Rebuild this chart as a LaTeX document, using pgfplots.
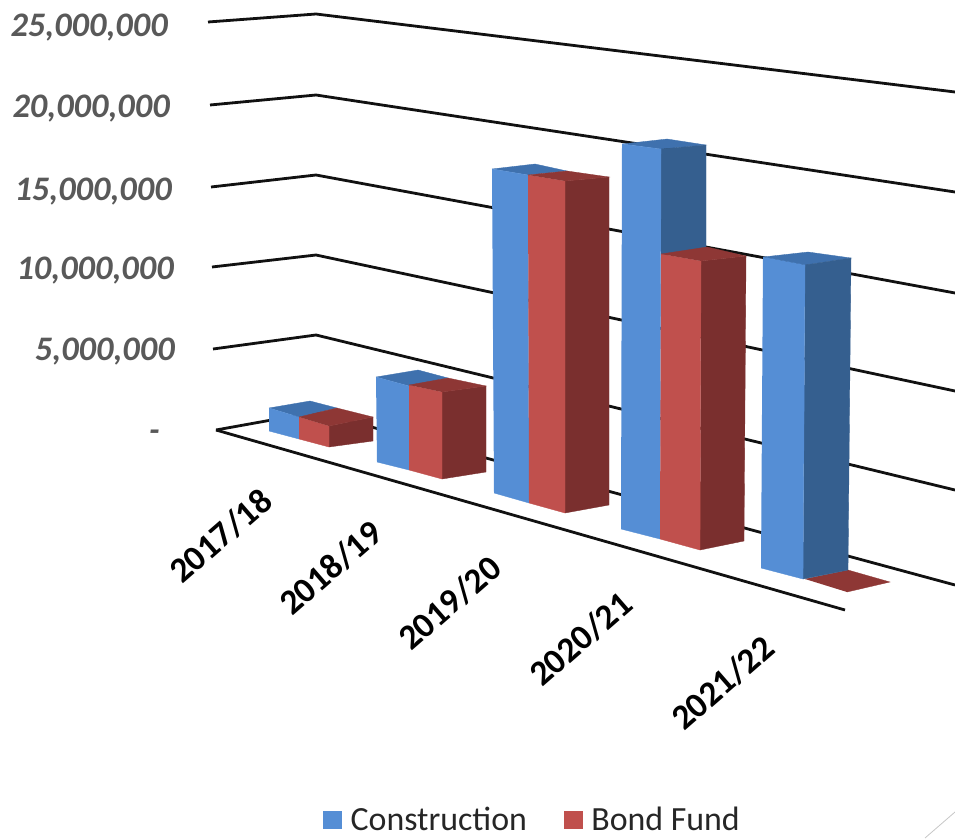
\documentclass[border=0pt]{standalone}
\usepackage{pgfplots}
\pgfplotsset{compat=1.18}
\usepackage{fontspec}
\setmainfont{Carlito}
\definecolor{bluefront}{HTML}{558ED5}
\definecolor{bluetop}{HTML}{3F71AE}
\definecolor{blueside}{HTML}{355F8F}
\definecolor{redfront}{HTML}{C0504D}
\definecolor{redtop}{HTML}{8E3735}
\definecolor{redside}{HTML}{7A2F2E}
\definecolor{gridink}{HTML}{111111}
\definecolor{ticktext}{HTML}{595959}
\newcommand{\face}[2]{\addplot[fill=#1,draw=#1,line width=0.25pt,forget plot] coordinates {#2};}
\newcommand{\grid}[1]{\addplot[gridink,line width=2.1pt,line join=round,forget plot] coordinates {#1};}
\newcommand{\vallabel}[3]{\node[anchor=east,font=\fontsize{25.8}{25.8}\selectfont\bfseries\itshape,text=ticktext,inner sep=0pt] at (axis cs:#1,#2) {#3};}
\newcommand{\catlabel}[3]{\node[rotate=41,font=\fontsize{26.5}{26.5}\selectfont\bfseries,text=black,inner sep=0pt] at (axis cs:#1,#2) {#3};}
\begin{document}
\begin{tikzpicture}
\begin{axis}[
  scale only axis,
  width=716.25pt, height=628.5pt,
  xmin=0, xmax=955, ymin=0, ymax=838,
  y dir=reverse,
  hide axis,
  clip=true,
  legend columns=2,
  legend cell align=left,
  legend style={at={(axis cs:323,820)},anchor=west,draw=none,fill=none,
    inner sep=0pt,outer sep=0pt,
    font=\fontsize{25.4}{25.4}\selectfont,text=black!85,
    /tikz/every odd column/.style={column sep=4.5pt},
    /tikz/every even column/.style={column sep=25.5pt}},
  legend image code/.code={\fill[#1] (0pt,-7pt) rectangle (14.25pt,7pt);},
]
% the page covers the whole plot area
\path (axis cs:0,0) rectangle (axis cs:955,838);

\addlegendimage{fill=bluefront,draw=none}
\addlegendentry{Construction}
\addlegendimage{fill=redfront,draw=none}
\addlegendentry{Bond Fund}

% value gridlines across the side wall and back wall
\grid{(208,22) (316,14) (955,92)}
\grid{(210,105) (316,95) (955,192)}
\grid{(211,187) (316,175) (955,293)}
\grid{(212,267) (316,255) (955,391)}
\grid{(213,349) (316,335) (955,490)}
\grid{(216,430) (316,412) (955,585)}
% front edge of the floor
\grid{(216,430) (845,610)}

% 2017/18
\face{bluetop}{(269,408) (310,401) (337,408) (299,417)}
\face{bluefront}{(269,408) (299,417) (299,439) (269,431)}
\face{redside}{(329,426) (373,417) (373,441) (329,447)}
\face{redfront}{(299,417) (329,426) (329,447) (299,439)}
\face{redtop}{(299,417) (337,408) (373,417) (329,426)}

% 2018/19
\face{bluetop}{(376,377) (418,370) (448,378) (409,386)}
\face{bluefront}{(376,377) (409,386) (409,470) (377,462)}
\face{redside}{(442,392) (486,386) (486,472) (442,479)}
\face{redfront}{(409,385) (442,392) (442,479) (409,470)}
\face{redtop}{(409,385) (448,378) (486,386) (442,392)}

% 2019/20
\face{bluetop}{(492,169) (535,164) (567,171) (528,175)}
\face{bluefront}{(492,169) (528,175) (529,503) (494,493)}
\face{redside}{(565,181) (609,177) (609,505) (565,513)}
\face{redfront}{(528,175) (565,181) (565,513) (529,503)}
\face{redtop}{(528,175) (567,171) (609,177) (565,181)}

% 2020/21
\face{bluetop}{(622,144) (667,139) (706,145) (661,149)}
\face{blueside}{(661,149) (706,145) (706,250) (661,256)}
\face{bluefront}{(622,144) (661,149) (660,539) (621,529)}
\face{redside}{(701,261) (746,256) (744,541) (700,550)}
\face{redfront}{(661,254) (701,261) (700,550) (660,539)}
\face{redtop}{(661,254) (707,247) (746,256) (701,261)}

% 2021/22
\face{redtop}{(805,579) (848,570) (890,582) (847,592)}
\face{bluetop}{(763,257) (808,252) (851,258) (805,265)}
\face{blueside}{(805,265) (851,258) (848,570) (803,579)}
\face{bluefront}{(763,257) (805,265) (803,579) (761,568)}

% faint rule in the lower right corner
\addplot[black!22,line width=0.6pt,forget plot] coordinates {(925,838) (955,812)};

% value labels
\vallabel{168}{28}{25,000,000}
\vallabel{170}{109}{20,000,000}
\vallabel{172}{192}{15,000,000}
\vallabel{174}{271}{10,000,000}
\vallabel{175}{352}{5,000,000}
\vallabel{160}{436}{-}

% category labels
\catlabel{221}{536}{2017/18}
\catlabel{331}{568}{2018/19}
\catlabel{450}{603}{2019/20}
\catlabel{581}{639}{2020/21}
\catlabel{723}{683}{2021/22}
\end{axis}
\end{tikzpicture}
\end{document}
